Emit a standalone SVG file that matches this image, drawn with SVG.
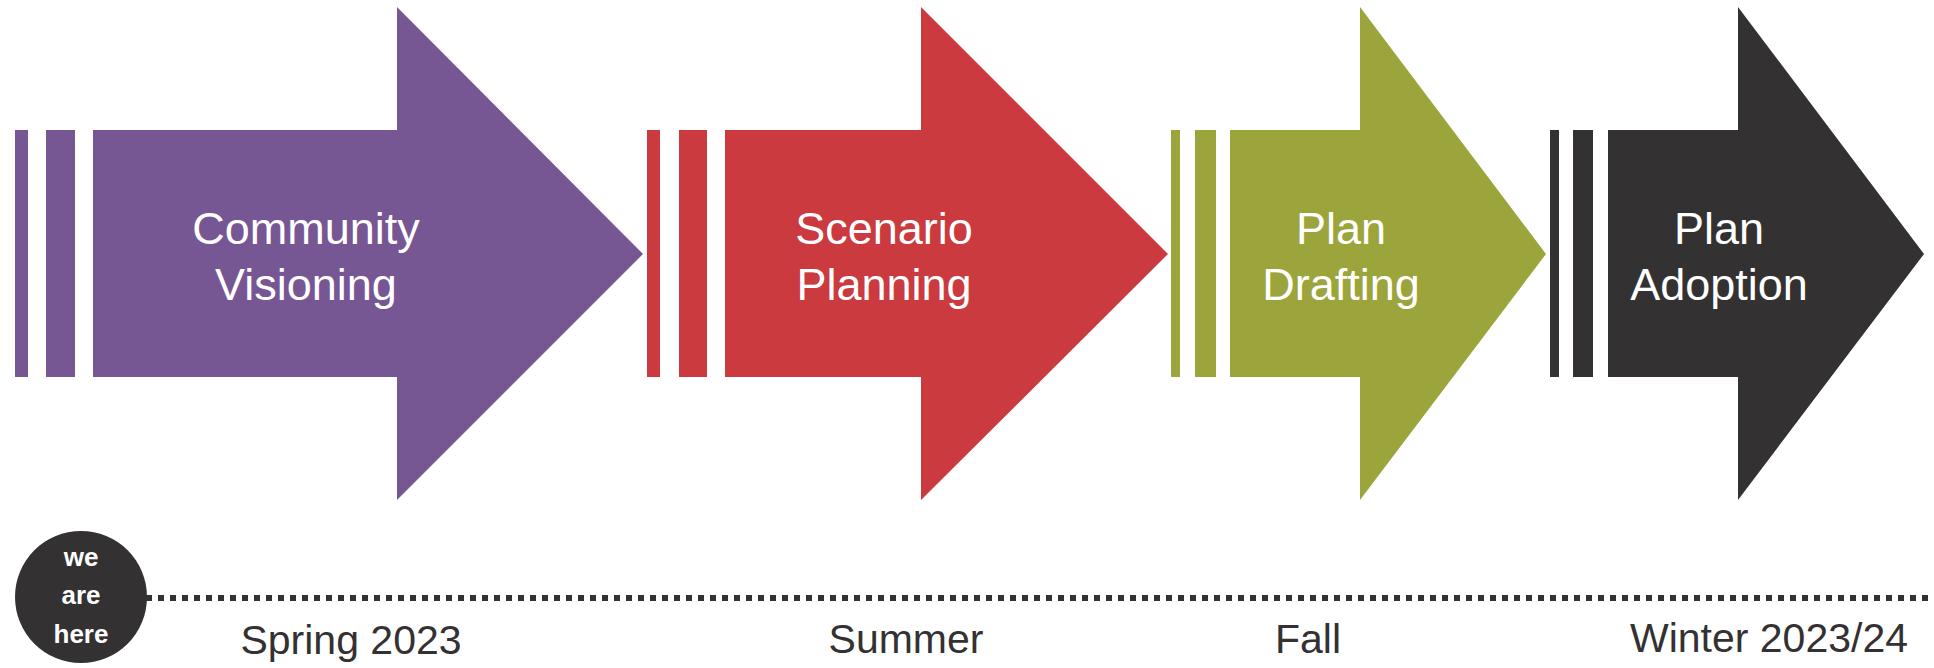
<svg xmlns="http://www.w3.org/2000/svg" width="1934" height="668" viewBox="0 0 1934 668">
<style>
.lbl{font-family:"Liberation Sans",Arial,sans-serif;font-size:45px;fill:#ffffff;text-anchor:middle}
.date{font-family:"Liberation Sans",Arial,sans-serif;font-size:41px;fill:#333132;text-anchor:middle}
.here{font-family:"Liberation Sans",Arial,sans-serif;font-size:26px;font-weight:bold;fill:#ffffff;text-anchor:middle}
.purple{fill:#775694}
.red{fill:#CA3A3F}
.green{fill:#9CA43C}
.dark{fill:#333132}
</style>
<rect width="1934" height="668" fill="#ffffff"/>
<g id="phase-community-visioning">
<rect class="purple" x="15" y="130" width="13" height="247"/>
<rect class="purple" x="46" y="130" width="29" height="247"/>
<polygon class="purple" points="93,130 397,130 397,7 643,254 397,500 397,377 93,377"/>
<text class="lbl" x="306" y="244">Community</text>
<text class="lbl" x="306" y="300">Visioning</text>
</g>
<g id="phase-scenario-planning">
<rect class="red" x="647" y="130" width="13" height="247"/>
<rect class="red" x="679" y="130" width="28" height="247"/>
<polygon class="red" points="725,130 921,130 921,7 1168,254 921,500 921,377 725,377"/>
<text class="lbl" x="884" y="244" font-size="44">Scenario</text>
<text class="lbl" x="884" y="300" font-size="44">Planning</text>
</g>
<g id="phase-plan-drafting">
<rect class="green" x="1171" y="130" width="9" height="247"/>
<rect class="green" x="1195" y="130" width="21" height="247"/>
<polygon class="green" points="1230,130 1360,130 1360,7 1546,254 1360,500 1360,377 1230,377"/>
<text class="lbl" x="1341" y="244">Plan</text>
<text class="lbl" x="1341" y="300">Drafting</text>
</g>
<g id="phase-plan-adoption">
<rect class="dark" x="1550" y="130" width="9" height="247"/>
<rect class="dark" x="1573" y="130" width="20" height="247"/>
<polygon class="dark" points="1608,130 1738,130 1738,7 1924,254 1738,500 1738,377 1608,377"/>
<text class="lbl" x="1719" y="244">Plan</text>
<text class="lbl" x="1719" y="300">Adoption</text>
</g>
<g id="connectors">
<line x1="146" y1="598" x2="1928" y2="598" stroke="#333132" stroke-width="6" stroke-dasharray="6 6"/>
</g>
<g id="we-are-here">
<circle class="dark" cx="81" cy="597" r="66"/>
<text class="here" x="81" y="566">we</text>
<text class="here" x="81" y="604">are</text>
<text class="here" x="81" y="643">here</text>
</g>
<g id="dates">
<text class="date" x="351" y="654">Spring 2023</text>
<text class="date" x="906" y="653">Summer</text>
<text class="date" x="1308" y="653">Fall</text>
<text class="date" x="1769" y="652">Winter 2023/24</text>
</g>
</svg>
